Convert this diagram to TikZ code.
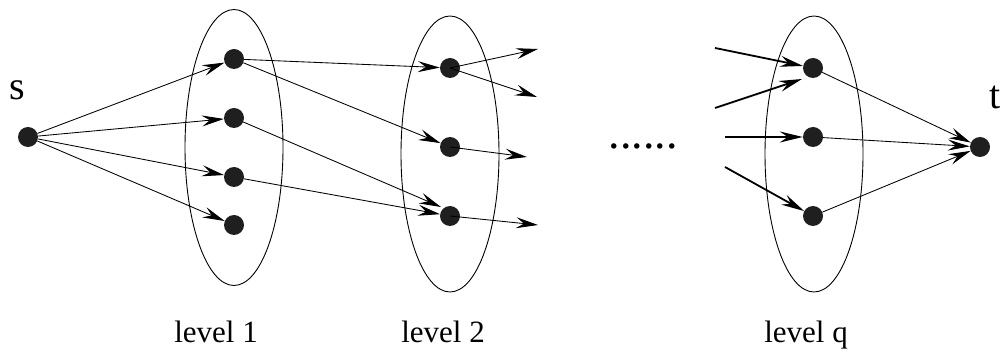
\documentclass[tikz,border=0pt]{standalone}
\usepackage{fontspec}
\setmainfont{Liberation Serif}
\usetikzlibrary{arrows.meta,shapes.geometric}
\begin{document}
\begin{tikzpicture}[x=1pt,y=-1pt,
  vtx/.style={circle,fill=black!88,inner sep=0pt,minimum size=20pt},
  group/.style={ellipse,draw,line width=0.9pt,inner sep=0pt,minimum width=98pt,minimum height=276pt},
  link/.style={line width=0.85pt,-{Stealth[length=22pt,width=11pt,inset=8pt]}},
  boldlink/.style={line width=1.8pt,-{Stealth[length=23pt,width=11pt,inset=8pt]}},
  lab/.style={font=\fontsize{31}{31}\selectfont,inner sep=0pt,anchor=base},
  big/.style={font=\fontsize{40}{40}\selectfont,inner sep=0pt}
]
\useasboundingbox (0,0) rectangle (1001,352);

% groups
\node[group] (g1) at (234,147.5) {};
\node[group] (g2) at (450,154) {};
\node[group] (gq) at (814,154) {};

% vertices
\node[vtx] (s) at (28,137) {};
\node[vtx] (a1) at (234,59) {};
\node[vtx] (a2) at (234,118) {};
\node[vtx] (a3) at (234,177) {};
\node[vtx] (a4) at (234,225) {};
\node[vtx] (b1) at (450,68) {};
\node[vtx] (b2) at (450,147) {};
\node[vtx] (b3) at (450,216) {};
\node[vtx] (q1) at (813,68) {};
\node[vtx] (q2) at (813,137) {};
\node[vtx] (q3) at (813,216) {};
\node[vtx] (t) at (980,147) {};

% labels
\node[big] (ls) at (17,90) {s};
\node[big] (lt) at (995,97) {t};
\node[lab] (l1) at (216,343) {level 1};
\node[lab] (l2) at (443,343) {level 2};
\node[lab] (lq) at (806,343) {level q};
\node[font=\fontsize{46}{46}\selectfont,inner sep=0pt,anchor=base] (dots) at (643,149) {......};

% free ends
\coordinate (o1) at (538,49);
\coordinate (o2) at (537,97);
\coordinate (o3) at (527,157);
\coordinate (o4) at (538,225);
\coordinate (e2) at (441,207);
\coordinate (i1) at (715,48);
\coordinate (i2) at (715,108);
\coordinate (i2e) at (802,79);
\coordinate (i3) at (725,137);
\coordinate (i4) at (725,167);

% edges s -> level 1
\draw[link] (s) -- (a1);
\draw[link] (s) -- (a2);
\draw[link] (s) -- (a3);
\draw[link] (s) -- (a4);

% level 1 -> level 2
\draw[link] (a1) -- (b1);
\draw[link] (a1) -- (b2);
\draw[link] (a2) -- (e2);
\draw[link] (a3) -- (b3);

% level 2 outgoing
\draw[link] (b1.center) -- (o1);
\draw[link] (b1.center) -- (o2);
\draw[link] (b2.center) -- (o3);
\draw[link] (b3.center) -- (o4);

% into level q
\draw[boldlink] (i1) -- (q1);
\draw[boldlink] (i2) -- (i2e);
\draw[boldlink] (i3) -- (q2);
\draw[boldlink] (i4) -- (q3);

% level q -> t
\draw[link] (q1) -- (t);
\draw[link] (q2) -- (t);
\draw[link] (q3) -- (t);
\end{tikzpicture}
\end{document}
